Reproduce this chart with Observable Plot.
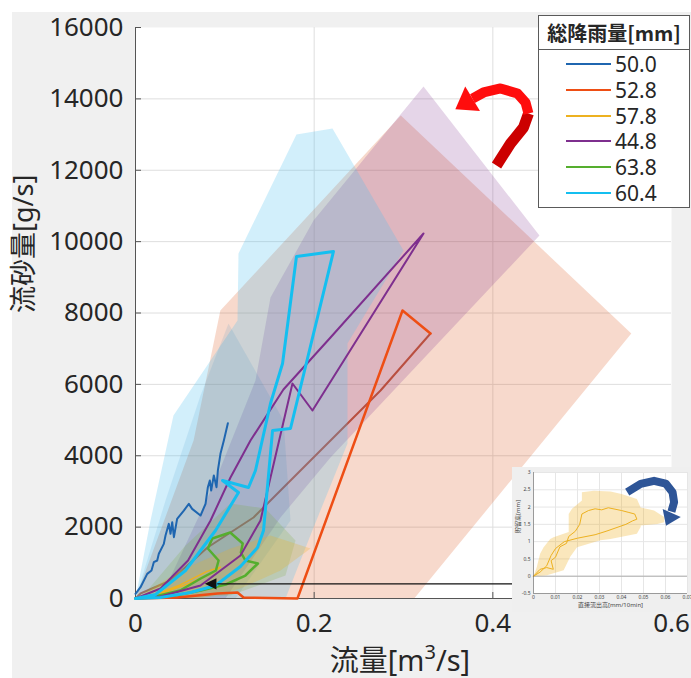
<!DOCTYPE html>
<html><head><meta charset="utf-8">
<script src="https://cdn.jsdelivr.net/npm/d3@7"></script>
<script src="https://cdn.jsdelivr.net/npm/@observablehq/plot@0.6"></script>
<style>
body{margin:0;background:#fff;}
#wrap{position:relative;width:691px;height:678px;overflow:hidden;background:#fff;font-family:"Noto Sans","Noto Sans CJK JP",sans-serif;color:#262626;}
#panel{position:absolute;left:12px;top:12px;right:0;bottom:0;background:#f0f0f0;}
#main{position:absolute;left:0;top:0;}
#xlabel{position:absolute;left:300px;width:200px;top:645px;text-align:center;font-size:29px;line-height:1;white-space:nowrap;}
#xlabel sup{font-size:20px;vertical-align:0;position:relative;top:-12px;}
#legend{position:absolute;left:538px;top:15px;width:150px;height:191px;background:#fff;border:1px solid #5a5a5a;}
#legend .title{height:33px;line-height:33px;text-align:center;font-weight:bold;font-size:20px;border-bottom:1px solid #5a5a5a;font-family:"Noto Sans CJK JP","Noto Sans",sans-serif;}
#legend .row{position:absolute;left:0;width:150px;height:26px;}
#legend .sw{position:absolute;left:27px;width:45px;top:12px;height:2px;}
#legend .lb{position:absolute;left:76px;top:0;font-size:21px;line-height:26px;}
#inset{position:absolute;left:512px;top:467px;}
</style></head>
<body><div id="wrap"><div id="panel"></div><div id="main"></div>
<div id="xlabel">流量[m<sup>3</sup>/s]</div>
<div id="legend"></div><div id="inset"></div></div>
<script>
// ---------- data ----------
const legendTitle = "総降雨量[mm]";
const seriesNames = ["50.0","52.8","57.8","44.8","63.8","60.4"];
const fillColors  = ["#0072BD","#D95319","#EDB120","#7E2F8E","#77AC30","#4DBEEE"];
const lineColors  = ["#1F66B0","#EE4E14","#EDB120","#7E2F8E","#55AE2E","#14BFF0"];
const xTicks = [0,0.2,0.4,0.6];
const yTicks = [0,2000,4000,6000,8000,10000,12000,14000,16000];

// envelopes (shaded regions)
const env50 = [[0,0],[0.0336,2746],[0.0728,5688],[0.1041,7706],[0.1657,4988],[0.1735,2186],[0.1119,0]];
const env528 = [[0,0],[0.065,4427],[0.095,8070],[0.297,13534],[0.555,7426],[0.312,0]];
const env578 = [[0,0],[0.0504,785],[0.1063,1401],[0.1511,1765],[0.1959,1401],[0.1623,785],[0.1175,280],[0.0728,0]];
const env448 = [[0.028,0],[0.0896,3306],[0.1343,6108],[0.1511,8434],[0.1993,10592],[0.3224,14347],[0.4522,10172],[0.2183,3951],[0.1623,2270],[0.1007,0]];
const env638 = [[0.0056,0],[0.056,1485],[0.1063,2662],[0.1455,2522],[0.1791,1625],[0.1679,644],[0.1063,84],[0.0504,0]];
const env604 = [[0,0],[0.0168,2186],[0.0425,5128],[0.1142,7790],[0.1153,9667],[0.1802,13002],[0.2205,13170],[0.3,9751],[0.2373,7145],[0.2373,4343],[0.1993,1989],[0.1679,0]];

// loops (lines)
const line50 = [[0,131],[0.0056,317],[0.0131,691],[0.0179,785],[0.0205,1018],[0.0243,1065],[0.0261,1252],[0.0317,1532],[0.0336,1765],[0.0373,2092],[0.0392,1812],[0.0411,2139],[0.043,1718],[0.0466,2232],[0.0541,2465],[0.0597,2652],[0.0634,2512],[0.0728,2325],[0.0784,2652],[0.081,3119],[0.0832,3306],[0.0847,3026],[0.0877,3446],[0.0907,3119],[0.0922,3586],[0.0951,4053],[0.0989,4427],[0.1034,4912]];
const line528rise = [[0,0],[0.047,28],[0.0918,140],[0.1142,168],[0.1209,28],[0.1813,0],[0.2989,8070],[0.3302,7426]];
const line528fall = [[0.3302,7426],[0.2743,5828],[0.2295,4707],[0.1623,3026],[0.1321,2270],[0.0806,1429],[0.0392,504],[0.0056,140],[0,0]];
const line578 = [[0,0],[0.03,150],[0.06,420],[0.085,700],[0.095,880],[0.08,760],[0.05,380],[0.02,90],[0,0]];
const line448 = [[0,0],[0.028,280],[0.0588,1065],[0.084,2186],[0.1063,3390],[0.1287,4427],[0.1656,5856],[0.2183,7313],[0.3224,10227],[0.1981,5268],[0.1757,6024],[0.1511,3390],[0.1399,2186],[0.1175,1205],[0.0728,364],[0.028,56],[0,0]];
const line638 = [[0,0],[0.039,56],[0.073,224],[0.101,392],[0.123,644],[0.137,981],[0.123,1065],[0.118,1289],[0.12,1541],[0.106,1849],[0.086,1681],[0.081,1401],[0.093,1065],[0.09,785],[0.073,560],[0.05,224],[0.017,28],[0,0]];
const line604 = [[0,0],[0.028,28],[0.0616,168],[0.0896,364],[0.1175,897],[0.1366,1429],[0.1433,1905],[0.1534,4707],[0.1735,4763],[0.2216,9723],[0.1802,9583],[0.1646,6585],[0.1511,5464],[0.1343,3587],[0.1265,3110],[0.0974,3306],[0.1153,2970],[0.0896,1905],[0.056,785],[0.0224,112],[0,0]];

// annotations
const blackArrowLine = [[0.422,410],[0.092,410]];
const blackArrowHead = [[0.086,410]];
const redArcDark = [[0.4041,12133],[0.4198,12749],[0.4343,13198],[0.4399,13590]];
const redArcBright = [[0.4399,13590],[0.4366,13898],[0.4276,14150],[0.4086,14291],[0.3896,14179],[0.3772,14010]];
const redHead = [[0.3705,13898]];

// inset chart
const insetXTicks = [0,0.01,0.02,0.03,0.04,0.05,0.06,0.07];
const insetYTicks = [-0.5,0,0.5,1,1.5,2,2.5,3];
const insetEnv = [[0,0],[0.0015,0.27],[0.003,0.65],[0.0046,0.84],[0.0076,1.08],[0.0091,1.13],[0.016,1.28],[0.016,1.8],[0.0175,1.95],[0.022,2.19],[0.022,2.43],[0.0274,2.47],[0.035,2.45],[0.04,2.38],[0.047,2.23],[0.0487,1.99],[0.0548,1.9],[0.0594,1.71],[0.0594,1.56],[0.0563,1.51],[0.0487,1.47],[0.0487,1.42],[0.047,1.23],[0.035,1.08],[0.0304,1.04],[0.0198,0.84],[0.0167,0.56],[0.0137,0.17],[0.0061,0.03]];
const insetLine = [[0,0],[0.003,0.2],[0.006,0.25],[0.009,0.2],[0.008,0.45],[0.01,0.55],[0.012,0.85],[0.015,0.95],[0.016,1.15],[0.019,1.3],[0.021,1.5],[0.022,1.8],[0.025,1.9],[0.028,1.95],[0.031,1.92],[0.034,1.98],[0.04,1.9],[0.043,1.85],[0.046,1.8],[0.047,1.65],[0.045,1.6],[0.042,1.5],[0.033,1.3],[0.028,1.2],[0.02,1.1],[0.014,1.0],[0.01,0.8],[0.008,0.6],[0.006,0.3],[0.003,0.12],[0,0]];
const insetBlueArc = [[0.0426,2.43],[0.0487,2.67],[0.0548,2.76],[0.0601,2.68],[0.0632,2.43],[0.0639,2.14],[0.0627,1.87]];
const insetBlueHead = [[0.0619,1.7]];
const insetXLabel = "直接流出高[mm/10min]";
const insetYLabel = "貯留高[mm]";
const yLabel = "流砂量[g/s]";

// ---------- chart ----------
const P = a => a.map(([x,y]) => ({x,y}));
const font = '"Noto Sans","Noto Sans CJK JP",sans-serif';
const poly = (a, c, o) => Plot.line(P(a), {x:"x", y:"y", fill:c, fillOpacity:o, stroke:"none", curve:"linear-closed"});
const ln = (a, c, w, extra={}) => Plot.line(P(a), {x:"x", y:"y", stroke:c, strokeWidth:w, strokeLinejoin:"round", ...extra});
// arrowhead symbol: isosceles triangle pointing up, base at +0.55r
const headSymbol = (wf, bf) => ({draw(ctx, size){ const r = Math.sqrt(size/Math.PI); ctx.moveTo(0,-r); ctx.lineTo(wf*r, bf*r); ctx.lineTo(-wf*r, bf*r); ctx.closePath(); }});

const main = Plot.plot({
  width:691, height:678, marginLeft:135, marginRight:20, marginTop:27, marginBottom:80,
  style:{background:"transparent", fontFamily:font, color:"#262626", overflow:"visible"},
  x:{domain:[0,0.6], label:null}, y:{domain:[0,16000], label:null},
  marks:[
    Plot.frame({fill:"white", stroke:"none"}),
    Plot.gridY(yTicks.slice(1,-1), {stroke:"#dedede", strokeOpacity:1}),
    Plot.gridX([0.2,0.4], {stroke:"#dedede", strokeOpacity:1}),
    poly(env528, fillColors[1], 0.22),
    ln(line528fall, "#C9582E", 2),
    poly(env448, fillColors[3], 0.2),
    poly(env604, fillColors[5], 0.25),
    poly(env50, fillColors[0], 0.1),
    poly(env638, fillColors[4], 0.2),
    poly(env578, fillColors[2], 0.25),
    Plot.ruleX([0], {stroke:"#555"}),
    Plot.ruleY([0], {stroke:"#555"}),
    Plot.tickY(yTicks, {y:d=>d, insetRight:530, stroke:"#555"}),
    Plot.tickX(xTicks, {x:d=>d, insetTop:565, stroke:"#555"}),
    ln(line578, lineColors[2], 1.5),
    ln(line638, lineColors[4], 2.5),
    ln(line50, lineColors[0], 2),
    ln(line448, lineColors[3], 2),
    ln(line528rise, lineColors[1], 2.5),
    ln(line604, lineColors[5], 3),
    ln(blackArrowLine, "#111", 1.3),
    Plot.dot(P(blackArrowHead), {x:"x", y:"y", symbol:headSymbol(0.75,0.55), r:7.5, rotate:270, fill:"#111", stroke:"none"}),
    ln(redArcDark, "#cc0000", 11, {strokeLinejoin:"round", strokeLinecap:"butt"}),
    ln(redArcBright, "#ff0d0d", 10, {strokeLinejoin:"round", strokeLinecap:"butt"}),
    Plot.dot(P(redHead), {x:"x", y:"y", symbol:headSymbol(1.1,0.55), r:13, rotate:239, fill:"#ff0d0d", stroke:"none"}),
    Plot.axisY({ticks:yTicks, tickSize:0, tickPadding:12, fontSize:26, tickFormat:d=>String(d), label:null}),
    Plot.axisX({ticks:xTicks, tickSize:0, tickPadding:15, fontSize:26, tickFormat:d=>String(d), label:null}),
    Plot.text([yLabel], {frameAnchor:"left", text:d=>d, rotate:-90, dx:-111, fontSize:27, fill:"#262626"})
  ]
});
document.getElementById("main").appendChild(main);

// ---------- legend ----------
const lg = document.getElementById("legend");
const t = document.createElement("div"); t.className="title"; t.textContent=legendTitle; lg.appendChild(t);
seriesNames.forEach((n,i) => {
  const r = document.createElement("div"); r.className="row"; r.style.top = (35 + i*25.8) + "px";
  const s = document.createElement("div"); s.className="sw"; s.style.background = lineColors[i];
  const l = document.createElement("div"); l.className="lb"; l.textContent = n;
  r.appendChild(s); r.appendChild(l); lg.appendChild(r);
});

// ---------- inset ----------
const inset = Plot.plot({
  width:179, height:145, marginLeft:21, marginTop:5, marginRight:4, marginBottom:19,
  style:{background:"#efefef", fontFamily:font, color:"#444", overflow:"hidden"},
  x:{domain:[0,0.07], label:null}, y:{domain:[-0.5,3], label:null},
  marks:[
    Plot.frame({fill:"white", stroke:"none"}),
    Plot.gridX(insetXTicks, {stroke:"#e6e6e6", strokeOpacity:1}),
    Plot.gridY(insetYTicks, {stroke:"#e6e6e6", strokeOpacity:1}),
    Plot.ruleY([0], {stroke:"#a0a0a0", strokeWidth:0.8}),
    poly(insetEnv, fillColors[2], 0.3),
    ln(insetLine, fillColors[2], 1),
    Plot.ruleX([0], {stroke:"#666", strokeWidth:0.6}),
    Plot.ruleY([-0.5], {stroke:"#666", strokeWidth:0.6}),
    ln(insetBlueArc, "#2E5597", 8, {strokeLinecap:"butt"}),
    Plot.dot(P(insetBlueHead), {x:"x", y:"y", symbol:headSymbol(1.1,0.55), r:9, rotate:204, fill:"#2E5597", stroke:"none"}),
    Plot.axisX({ticks:insetXTicks, tickSize:0, tickPadding:2, fontSize:5, tickFormat:d=>String(d), label:null}),
    Plot.axisY({ticks:insetYTicks, tickSize:0, tickPadding:3, fontSize:5, tickFormat:d=>String(d), label:null}),
    Plot.text([insetXLabel], {frameAnchor:"bottom", text:d=>d, dy:13, fontSize:6, fill:"#444"}),
    Plot.text([insetYLabel], {frameAnchor:"left", text:d=>d, rotate:-90, dx:-15, fontSize:6, fill:"#444"})
  ]
});
document.getElementById("inset").appendChild(inset);
</script>
</body></html>
